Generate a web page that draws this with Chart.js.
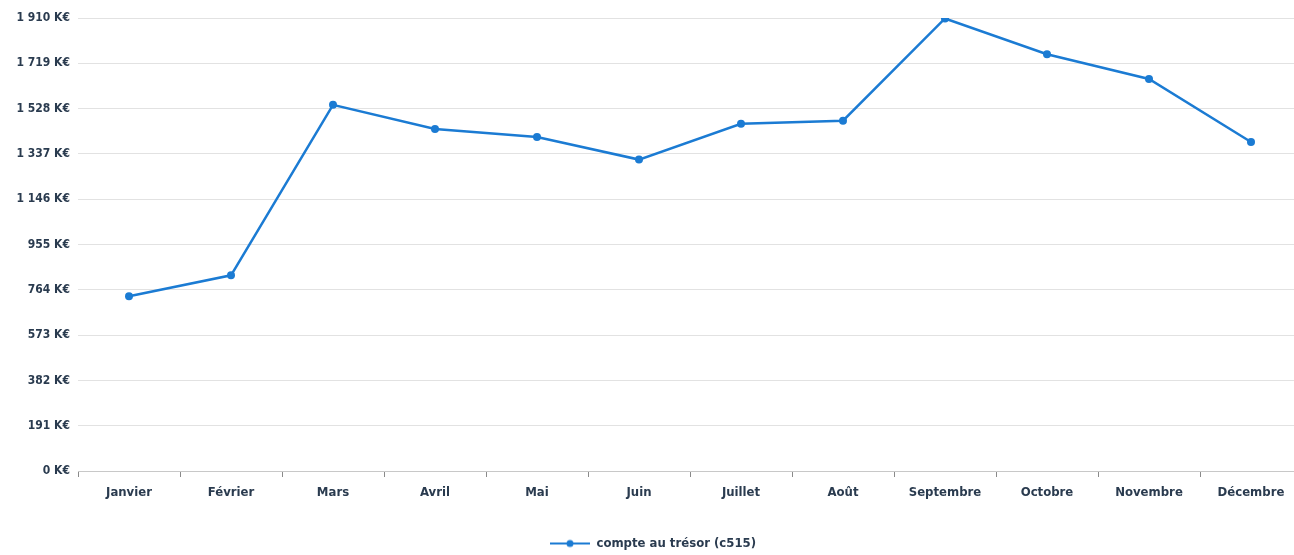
<!DOCTYPE html>
<html>
<head>
<meta charset="utf-8">
<script src="https://cdn.jsdelivr.net/npm/chart.js@4"></script>
<style>
  html, body { margin: 0; padding: 0; background: #fff; overflow: hidden; }
  #wrap { position: relative; width: 1312px; height: 555px; }
</style>
</head>
<body>
<div id="wrap"><canvas id="tresor"></canvas></div>
<script>
/* ===================== DONNEES ===================== */
const mois = [
  "Janvier", "Février", "Mars", "Avril", "Mai", "Juin",
  "Juillet", "Août", "Septembre", "Octobre", "Novembre", "Décembre",
];
const soldes = [737, 825, 1544, 1442, 1408, 1313, 1464, 1477, 1908, 1757, 1653, 1387];
const serieNom = "compte au trésor (c515)";
const axeMax = 1910;
const axePas = 191;

const bleu = "#1b7bd3";
const texte = "#2a3b4f";
const police = "'DejaVu Sans Condensed', 'Liberation Sans Narrow', sans-serif";

/* ===================== UTIL ===================== */
function formatKE(v) {
  return String(v).replace(/\B(?=(\d{3})+(?!\d))/g, " ") + " K€";
}

// marqueur de légende : trait + point
function marqueur() {
  const c = document.createElement("canvas");
  c.width = 40;
  c.height = 10;
  const g = c.getContext("2d");
  g.strokeStyle = bleu;
  g.lineWidth = 2;
  g.beginPath();
  g.moveTo(0, 5);
  g.lineTo(40, 5);
  g.stroke();
  g.fillStyle = bleu;
  g.beginPath();
  g.arc(20, 5, 3.5, 0, Math.PI * 2);
  g.fill();
  return c;
}

/* ===================== GRAPHIQUE ===================== */
new Chart(document.getElementById("tresor"), {
  type: "line",
  data: {
    labels: mois,
    datasets: [
      {
        label: serieNom,
        data: soldes,
        borderColor: bleu,
        backgroundColor: bleu,
        borderWidth: 2.5,
        pointRadius: 4,
        pointStyle: "circle",
        pointBackgroundColor: bleu,
        pointBorderWidth: 0,
        tension: 0,
      },
    ],
  },
  options: {
    responsive: true,
    maintainAspectRatio: false,
    animation: false,
    layout: { padding: { top: 18, left: 4, right: 10, bottom: -5 } },
    plugins: {
      legend: {
        position: "bottom",
        labels: {
          usePointStyle: true,
          pointStyleWidth: 40,
          color: texte,
          font: { family: police, size: 13, weight: "bold" },
          padding: 1,
          generateLabels: () => [
            {
              text: serieNom,
              pointStyle: marqueur(),
              fontColor: texte,
              datasetIndex: 0,
            },
          ],
        },
      },
      tooltip: { enabled: false },
    },
    scales: {
      x: {
        offset: true,
        border: { color: "#c8c8c8" },
        grid: {
          offset: true,
          drawOnChartArea: false,
          drawTicks: true,
          tickLength: 6,
          color: "#8a8a8a",
        },
        ticks: {
          color: texte,
          padding: 8,
          font: { family: police, size: 13, weight: "bold" },
        },
        afterFit: (s) => { s.height = 65; },
      },
      y: {
        min: 0,
        max: axeMax,
        border: { display: false },
        grid: { color: "#e2e2e2", drawTicks: false },
        ticks: {
          stepSize: axePas,
          color: texte,
          padding: 8,
          font: { family: police, size: 12, weight: "bold" },
          callback: (v) => formatKE(v),
        },
        afterFit: (s) => { s.width = 74; },
      },
    },
  },
});
</script>
</body>
</html>
